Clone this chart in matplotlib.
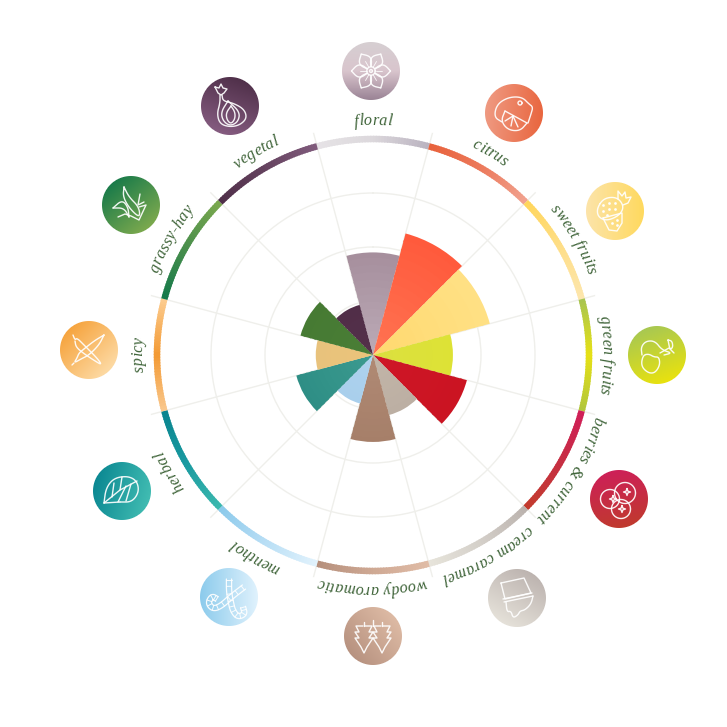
import numpy as np
import matplotlib
matplotlib.use('Agg')
import matplotlib.pyplot as plt
from matplotlib.colors import LinearSegmentedColormap
from matplotlib.font_manager import FontProperties, findfont, get_font
from matplotlib.ft2font import LoadFlags

categories = ['floral', 'citrus', 'sweet fruits', 'green fruits', 'berries & current',
              'cream caramel', 'woody aromatic', 'menthol', 'herbal', 'spicy',
              'grassy-hay', 'vegetal']
values = [1.90, 2.33, 2.24, 1.48, 1.80, 1.15, 1.61, 0.93, 1.47, 1.06, 1.39, 0.96]

# sector colours, outer edge then centre
sector_outer = ['#a68f9d', '#ff5a3c', '#ffe084', '#dde235', '#cb1422', '#bcafa3',
                '#a67f69', '#a9cfec', '#2e8e85', '#e8c27c', '#467a33', '#512e48']
sector_inner = ['#bcabb7', '#ff7453', '#ffd96f', '#dbe040', '#ce1627', '#c2b5a8',
                '#b08a75', '#aed2ee', '#3c9b90', '#ebc47a', '#4a7e36', '#54304a']

# ring colours, clockwise
ring_stops = [['#e6e3e6', '#dcd8dc', '#bab3c0'],
              ['#e8623c', '#ec7a5c', '#f1a28f'],
              ['#ffd65c', '#fede88', '#fde6ad'],
              ['#a9c550', '#e7e115', '#b2c63c'],
              ['#d01f58', '#c62f42', '#c33b2e'],
              ['#bbb3ae', '#d4cfc9', '#e7e4db'],
              ['#e0bca6', '#cfa994', '#b6907d'],
              ['#e1f2fc', '#b8def5', '#8ccaeb'],
              ['#3bb8ae', '#1a9aa0', '#0a858f'],
              ['#f9c78c', '#f39a34', '#fccb8e'],
              ['#157a4a', '#4a8f4c', '#7aa84e'],
              ['#4f2f49', '#65435f', '#805b7c']]

# icon discs, colours and gradient direction in degrees (0 = right, 90 = down)
disc_stops = [['#d6cfd2', '#d9c5cd', '#9a8395'],
              ['#ef9a82', '#e9663f'],
              ['#fce4aa', '#ffd95e'],
              ['#a8c852', '#e9e20e'],
              ['#cd2058', '#c03a2e'],
              ['#e5e1d9', '#bdb4b0'],
              ['#b79280', '#ddbaa4'],
              ['#8ccbec', '#e0f2fd'],
              ['#0b8892', '#41bcb2'],
              ['#f6a43e', '#fddaa4'],
              ['#1a7b4a', '#7ca94e'],
              ['#50304a', '#855c80']]
disc_dirs = [90, 5, 0, 70, 80, 300, 320, 0, 15, 45, 50, 110]
disc_x = [371, 514, 615, 657, 619, 517, 373, 229, 122, 89, 131, 230]
disc_y = [71, 113, 211, 355, 499, 598, 636, 597, 491, 350, 205, 106]

CX, CY = 373.0, 355.0
UNIT = 54.0  # pixels per grid step
RMAX = 4.26
TEXT_C = '#3f6439'

fig = plt.figure(figsize=(7.27, 7.27), dpi=100, facecolor='white')
R = RMAX * UNIT
ax = fig.add_axes([(CX - R) / 727, 1 - (CY + R) / 727, 2 * R / 727, 2 * R / 727],
                  projection='polar')
ax.set_theta_zero_location('N')
ax.set_theta_direction(-1)
ax.set_ylim(0, RMAX)
ax.set_xticks(np.radians(np.arange(15, 360, 30)))
ax.set_yticks([1, 2, 3, 4])
ax.set_xticklabels([])
ax.set_yticklabels([])
ax.tick_params(length=0)
ax.grid(True, color='#efefeb', lw=1)
ax.spines['polar'].set_visible(False)
ax.set_axisbelow(True)
ax.patch.set_alpha(0)


def ramp(stops):
    return LinearSegmentedColormap.from_list('c', stops)


width = np.radians(30)
for i, v in enumerate(values):
    th = np.radians(i * 30)
    cm = ramp([sector_inner[i], sector_outer[i]])
    n = 14
    for k in range(n, 0, -1):
        lo = v * (k - 1) / n
        ax.bar(th, v * k / n - lo + (0.04 if k < n else 0), width=width, bottom=lo,
               color=cm(k / n), lw=0, zorder=3)
    # ring piece
    cm = ramp(ring_stops[i])
    n = 40
    step = width / n
    for k in range(n):
        a0 = th - width / 2 + k * step
        w = step * 1.4 if k < n - 1 else step
        ax.bar(a0 + w / 2, 0.12, width=w, bottom=3.94, color=cm(k / (n - 1)), lw=0, zorder=3)

ov = fig.add_axes([0, 0, 1, 1], zorder=5)
ov.set_xlim(0, 727)
ov.set_ylim(727, 0)
ov.axis('off')
ov.patch.set_alpha(0)


def disc(x, y, r, stops, deg):
    cm = ramp(stops)
    x0, y0 = int(x - r - 2), int(y - r - 2)
    n = int(2 * r + 5)
    xs, ys = np.meshgrid(x0 + 0.5 + np.arange(n), y0 + 0.5 + np.arange(n))
    dx, dy = xs - x, ys - y
    t = (dx * np.cos(np.radians(deg)) + dy * np.sin(np.radians(deg))) / r / 2 + 0.5
    img = cm(np.clip(t, 0, 1))
    img[..., 3] = np.clip(r - np.hypot(dx, dy) + 0.5, 0, 1)
    ov.imshow(img, extent=(x0, x0 + n, y0 + n, y0), interpolation='nearest', aspect='auto', zorder=1)


def chaikin(p, closed=False, it=3):
    p = np.asarray(p, float)
    for _ in range(it):
        if closed:
            q = np.roll(p, -1, axis=0)
            p = np.column_stack([0.75 * p + 0.25 * q, 0.25 * p + 0.75 * q]).reshape(-1, 2)
        else:
            a, b = p[:-1], p[1:]
            mid = np.column_stack([0.75 * a + 0.25 * b, 0.25 * a + 0.75 * b]).reshape(-1, 2)
            p = np.vstack([p[0], mid, p[-1]])
    if closed:
        p = np.vstack([p, p[0]])
    return p


def ln(x, y, pts, smooth=False, closed=False, lw=1.0):
    p = np.asarray(pts, float)
    if smooth:
        p = chaikin(p, closed)
    elif closed:
        p = np.vstack([p, p[0]])
    ov.plot(x + p[:, 0], y + p[:, 1], color='white', lw=lw, alpha=0.92, zorder=2,
            solid_capstyle='round', solid_joinstyle='round')


def ring(x, y, cx, cy, r, lw=1.0):
    a = np.linspace(0, 2 * np.pi, 50)
    ln(x, y, np.column_stack([cx + r * np.cos(a), cy + r * np.sin(a)]), lw=lw)


def dots(x, y, pts):
    for dx, dy in pts:
        ov.plot(x + dx, y + dy, '.', color='white', ms=2, alpha=0.9, zorder=2)


def icon_floral(x, y):
    for d in range(0, 360, 60):
        a = np.radians(d)
        c, s = np.cos(a), np.sin(a)
        pet = np.array([[4, -2.3], [9, -6], [14, -6], [19.5, 0]])
        for pp in (pet, pet * [1, -1]):
            rot = np.column_stack([pp[:, 0] * c - pp[:, 1] * s, pp[:, 0] * s + pp[:, 1] * c])
            ln(x, y, rot, smooth=True)
        ln(x, y, [[4.5 * c, 4.5 * s], [11 * c, 11 * s]], lw=0.6)
    ring(x, y, 0, 0, 4.2)
    ring(x, y, 0, 0, 1.4)


def icon_citrus(x, y):
    ln(x, y, [[-12, 9], [-20, 4], [-17, -9], [-5, -16], [8, -16], [15, -9], [19, -6], [17, 1], [14, 10]], smooth=True)
    ring(x, y, 6, -10, 2)
    ln(x, y, [[-9, -2], [13, 10]])
    ln(x, y, [[-9, -2], [-13, 8], [-6, 17], [6, 18], [13, 10]], smooth=True)
    for e in ([-9, 8], [-3, 13], [4, 14]):
        ln(x, y, [[-1, 3], e])


def icon_sweet(x, y):
    ln(x, y, [[-18, -3], [-11, -13], [2, -14], [9, -5], [5, 4], [-8, 10], [-17, 6]], smooth=True, closed=True)
    dots(x, y, [(-12, -6), (-6, -8), (0, -8), (-12, 0), (-6, -2), (0, -2), (-8, 4)])
    ln(x, y, [[3, -12], [3, -20], [7, -15], [10, -19], [11, -13], [16, -14], [13, -8], [8, -6]])
    ln(x, y, [[-12, 7], [7, 2], [7, 12], [2, 20], [-6, 19], [-12, 7]])
    dots(x, y, [(-3, 12), (2, 9), (2, 14)])


def icon_green(x, y):
    ln(x, y, [[-15, 0], [-16, -8], [-11, -14], [-2, -14], [5, -5], [15, -2], [7, 0]], smooth=True)
    ln(x, y, [[-14, 0], [-8, -1], [-3, 2], [2, 2], [3, 10], [-2, 18], [-9, 18], [-16, 11]], smooth=True, closed=True)
    ln(x, y, [[3, -2], [12, -7], [17, -2]])
    ln(x, y, [[11, -15], [15, -14], [16, -8], [13, -5], [11, -15]], smooth=True)


def star(x, y, cx, cy, r=3.5):
    q = r * 0.25
    ln(x, y, [[cx, cy - r], [cx + q, cy - q], [cx + r, cy], [cx + q, cy + q],
              [cx, cy + r], [cx - q, cy + q], [cx - r, cy], [cx - q, cy - q]], closed=True)


def icon_berries(x, y):
    for a, b, r in ((-9, 0, 9.5), (6, -6, 10.5), (2, 10, 9.5)):
        ring(x, y, a, b, r)
    star(x, y, -6, 0)
    star(x, y, 8, -7)
    star(x, y, 3, 10)


def icon_cream(x, y):
    ln(x, y, [[-16, -15], [7, -20], [14, -5], [-12, 1]], closed=True)
    ln(x, y, [[-14, 1], [15, -5]])
    ln(x, y, [[-13, 4], [16, -2]])
    ln(x, y, [[-11, 4], [-10, 14], [-6, 13], [-4, 20], [1, 17], [3, 13], [8, 12], [14, 6], [16, -2]], smooth=True)


def icon_woody(x, y):
    for off in (-9, 9):
        ln(x, y, [[off - 1, -10], [off - 8, -10], [off - 5, -4], [off - 9, -4], [off - 5, 2],
                  [off - 9, 2], [off - 3, 11], [off, 17], [off + 3, 11], [off + 9, 2],
                  [off + 5, 2], [off + 9, -4], [off + 5, -4], [off + 8, -10], [off + 1, -10]])
        ln(x, y, [[off, -10], [off, -14]])
    ln(x, y, [[0, -10], [0, -16]])


def cane(x, y, pts):
    p = chaikin(pts)
    d = np.gradient(p, axis=0)
    nrm = np.column_stack([-d[:, 1], d[:, 0]]) / np.hypot(d[:, 0], d[:, 1])[:, None]
    ln(x, y, p + 2.6 * nrm, lw=0.9)
    ln(x, y, p - 2.6 * nrm, lw=0.9)
    for k in range(3, len(p), 5):
        ln(x, y, [p[k] + 2.6 * nrm[k], p[k] - 2.6 * nrm[k]], lw=0.7)


def icon_menthol(x, y):
    cane(x, y, [[0, -18], [0, -5], [2, 6], [4, 14], [9, 20], [16, 17], [14, 10]])
    cane(x, y, [[15, -10], [2, 0], [-8, 9], [-16, 12], [-21, 6], [-17, -1], [-12, 2]])


def icon_herbal(x, y):
    ln(x, y, [[-18, 12], [-16, -3], [-8, -13], [6, -15], [15, -10], [17, 1], [10, 11], [-2, 11]], smooth=True)
    ln(x, y, [[-18, 12], [-2, 11]])
    ln(x, y, [[-18, 12], [-2, -1], [15, -10]])
    ln(x, y, [[-10, 6], [-8, -8]])
    ln(x, y, [[-2, -1], [0, -14]])
    ln(x, y, [[-4, 11], [4, -5]])
    ln(x, y, [[4, 10], [9, -7]])


def icon_spicy(x, y):
    ln(x, y, [[-16, -15], [-14, -10], [-12, -12], [-5, -5], [8, 8], [13, 15], [6, 11], [-6, 3], [-13, -3], [-14, -9]], smooth=True)
    ln(x, y, [[15, -15], [10, -5], [0, 5], [-8, 9], [-15, 13], [-12, 8], [-10, 3], [-5, -1], [5, -9], [15, -15]], smooth=True)
    ln(x, y, [[-15, 13], [-17, 15]])


def icon_grassy(x, y):
    ln(x, y, [[-18, 3], [-9, -5], [-3, 2], [-2, 12]], smooth=True)
    ln(x, y, [[-18, 3], [-7, 3], [-2, 12]], smooth=True)
    ln(x, y, [[-7, -18], [-8, -8], [-1, 4], [9, 13], [8, 2], [-2, -8], [-7, -18]], smooth=True)
    ln(x, y, [[-13, 12], [-6, 9], [0, 11], [8, 15], [15, 0], [8, 2]])
    ln(x, y, [[9, -11], [7, 0], [13, -3]])


def icon_vegetal(x, y):
    ln(x, y, [[-15, -19], [-11, -18], [-9, -22], [-7, -18], [-3, -17], [-6, -13], [-9, -11], [-12, -13]], closed=True)
    ln(x, y, [[-8, -11], [-7, -5], [3, -3], [14, 3], [17, 12], [10, 19], [0, 21], [-10, 18], [-13, 8], [-10, -3], [-10, -11]], smooth=True)
    ln(x, y, [[-2, -5], [-9, 6], [-7, 15], [0, 20], [8, 16], [10, 6], [-2, -5]], smooth=True)
    ln(x, y, [[1, 0], [-4, 7], [-3, 14], [1, 18], [5, 13], [5, 6], [1, 0]], smooth=True)


icons = [icon_floral, icon_citrus, icon_sweet, icon_green, icon_berries, icon_cream,
         icon_woody, icon_menthol, icon_herbal, icon_spicy, icon_grassy, icon_vegetal]

for i in range(12):
    disc(disc_x[i], disc_y[i], 29, disc_stops[i], disc_dirs[i])
    icons[i](disc_x[i], disc_y[i])

# curved labels, one glyph at a time
fp = FontProperties(family='Liberation Serif', style='italic', size=11.6)
font = get_font(findfont(fp))
font.set_size(fp.get_size_in_points(), fig.dpi)
TRACK = 0.25
r_txt = 230
for i, name in enumerate(categories):
    glyphs = [font.load_char(ord(c), flags=LoadFlags.NO_HINTING) for c in name]
    widths = [g.linearHoriAdvance / 65536 + TRACK for g in glyphs]
    pos = -sum(widths) / 2
    for ch, g, w in zip(name, glyphs, widths):
        if ch != ' ':
            # agg pins the left of the glyph image and adds its bearing on screen x
            lsb = g.horiBearingX / 64
            a = np.radians(i * 30) + (pos + lsb) / r_txt
            rot = np.degrees(np.radians(i * 30) + (pos + w / 2) / r_txt)
            ov.text(CX + r_txt * np.sin(a) - lsb, CY - r_txt * np.cos(a), ch, fontproperties=fp,
                    color=TEXT_C, rotation=-rot, rotation_mode='anchor',
                    ha='left', va='baseline', zorder=3)
        pos += w

ov.set_xlim(0, 727)
ov.set_ylim(727, 0)
fig.savefig('out.png', dpi=100, facecolor='white')
